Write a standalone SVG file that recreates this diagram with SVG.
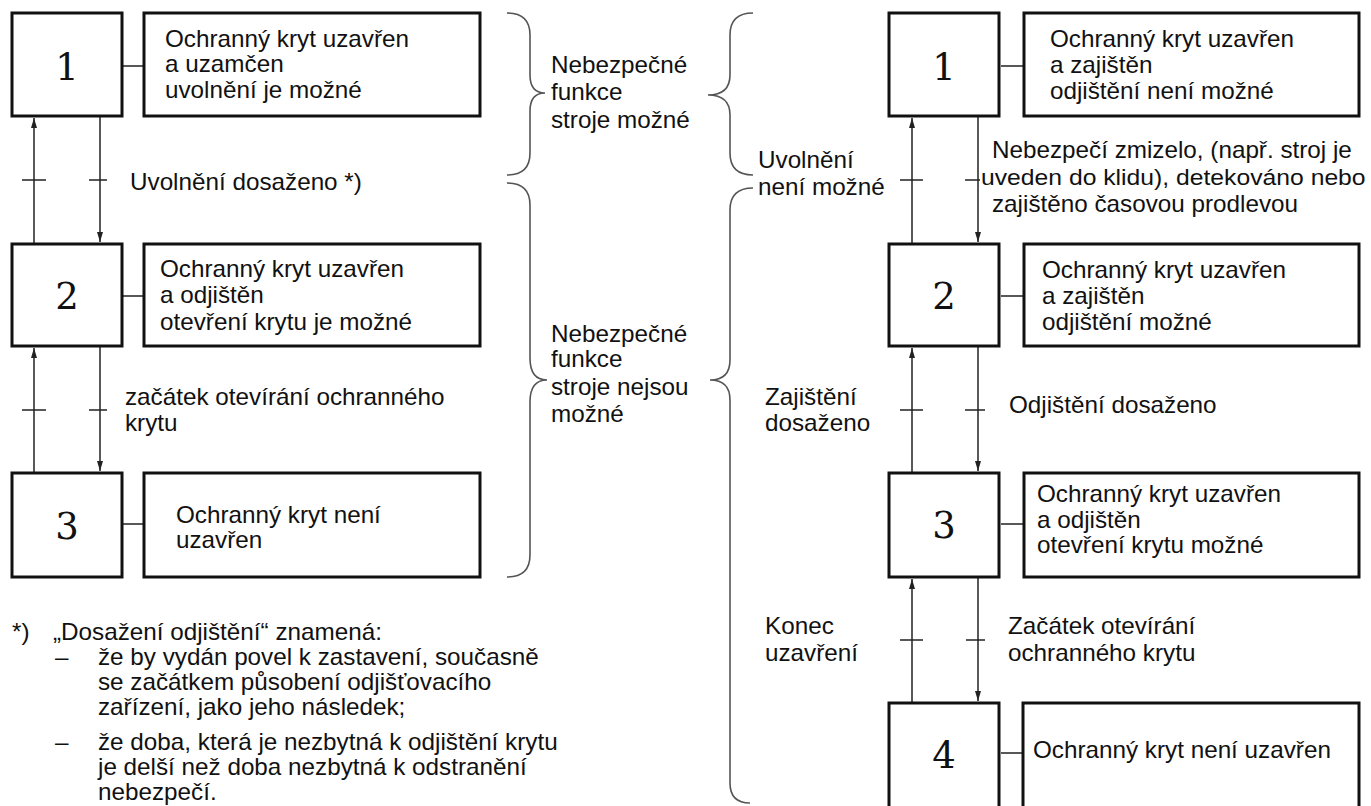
<svg xmlns="http://www.w3.org/2000/svg" width="1371" height="806" viewBox="0 0 1371 806">
<style>
.t{font-family:"Liberation Sans",Arial,sans-serif;font-size:23px;fill:#111}
.n{font-family:"DejaVu Serif",serif;font-size:37px;fill:#111;text-anchor:middle}
.b{fill:#fff;stroke:#111;stroke-width:3}
.c{stroke:#222;stroke-width:1.5;fill:none}
.br{stroke:#555;stroke-width:1.6;fill:none}
</style>
<defs>
<marker id="ah" viewBox="0 0 10 6" refX="10" refY="3" markerWidth="10" markerHeight="6" markerUnits="userSpaceOnUse" orient="auto"><path d="M0,0 L10,3 L0,6 z" fill="#222"/></marker>
</defs>
<rect width="1371" height="806" fill="#fff"/>

<g id="connectors">
<path class="c" d="M123,66 H143 M123,296 H143 M123,524 H143"/>
<path class="c" d="M1001,66 H1023 M1001,296 H1023 M1001,524 H1023 M1001,753 H1022"/>
<path class="c" marker-end="url(#ah)" d="M34,243 V118"/>
<path class="c" marker-end="url(#ah)" d="M100,117 V242"/>
<path class="c" marker-end="url(#ah)" d="M34,472 V348"/>
<path class="c" marker-end="url(#ah)" d="M100,347 V471"/>
<path class="c" d="M22,180 H46 M89,180 H107 M22,410 H46 M89,410 H107"/>
<path class="c" marker-end="url(#ah)" d="M912,243 V118"/>
<path class="c" marker-end="url(#ah)" d="M978,117 V242"/>
<path class="c" marker-end="url(#ah)" d="M912,472 V348"/>
<path class="c" marker-end="url(#ah)" d="M978,347 V471"/>
<path class="c" marker-end="url(#ah)" d="M912,702 V579"/>
<path class="c" marker-end="url(#ah)" d="M978,578 V701"/>
<path class="c" d="M900,180 H923 M965,180 H980 M900,410 H923 M965,410 H985 M900,640 H923 M966,640 H985"/>
</g>

<g id="state-L1"><rect class="b" x="12" y="13" width="110" height="103"/><text class="n" x="67" y="80">1</text></g>
<g id="desc-L1"><rect class="b" x="144" y="13" width="336" height="103"/>
<text class="t" transform="translate(165 47) scale(1.055 1)"><tspan x="0" y="0">Ochranný kryt uzavřen</tspan><tspan x="0" y="25">a uzamčen</tspan><tspan x="0" y="51">uvolnění je možné</tspan></text></g>

<g id="state-L2"><rect class="b" x="12" y="244" width="110" height="102"/><text class="n" x="67" y="309">2</text></g>
<g id="desc-L2"><rect class="b" x="144" y="244" width="336" height="102"/>
<text class="t" transform="translate(160 277) scale(1.055 1)"><tspan x="0" y="0">Ochranný kryt uzavřen</tspan><tspan x="0" y="26">a odjištěn</tspan><tspan x="0" y="53">otevření krytu je možné</tspan></text></g>

<g id="state-L3"><rect class="b" x="12" y="473" width="110" height="104"/><text class="n" x="67" y="539">3</text></g>
<g id="desc-L3"><rect class="b" x="144" y="473" width="336" height="104"/>
<text class="t" transform="translate(176 523) scale(1.055 1)"><tspan x="0" y="0">Ochranný kryt není</tspan><tspan x="0" y="25">uzavřen</tspan></text></g>

<g id="label-L12"><text class="t" transform="translate(130 190) scale(1.055 1)">Uvolnění dosaženo *)</text></g>
<g id="label-L23"><text class="t" transform="translate(125 405) scale(1.055 1)"><tspan x="0" y="0">začátek otevírání ochranného</tspan><tspan x="0" y="26">krytu</tspan></text></g>

<g id="brace-A"><path class="br" d="M507,13 Q530,13 530,35 V75 Q530,93 545,93 Q530,93 530,111 V153 Q530,175 507,175"/>
<text class="t" transform="translate(551 73) scale(1.055 1)"><tspan x="0" y="0">Nebezpečné</tspan><tspan x="0" y="27">funkce</tspan><tspan x="0" y="55">stroje možné</tspan></text></g>
<g id="brace-B"><path class="br" d="M507,183 Q530,183 530,205 V358 Q530,380 547,380 Q530,380 530,402 V555 Q530,577 507,577"/>
<text class="t" transform="translate(551 342) scale(1.055 1)"><tspan x="0" y="0">Nebezpečné</tspan><tspan x="0" y="25">funkce</tspan><tspan x="0" y="53">stroje nejsou</tspan><tspan x="0" y="80">možné</tspan></text></g>
<g id="brace-C"><path class="br" d="M753,13 Q730,13 730,35 V75 Q730,95 708,95 Q730,95 730,115 V153 Q730,175 753,175"/>
<text class="t" transform="translate(758 168) scale(1.055 1)"><tspan x="0" y="0">Uvolnění</tspan><tspan x="0" y="27">není možné</tspan></text></g>
<g id="brace-D"><path class="br" d="M753,188 Q730,188 730,210 V360 Q730,380 710,380 Q730,380 730,400 V783 Q730,803 750,803"/>
<text class="t" transform="translate(765 405) scale(1.055 1)"><tspan x="0" y="0">Zajištění</tspan><tspan x="0" y="26">dosaženo</tspan></text>
<text class="t" transform="translate(765 634) scale(1.055 1)"><tspan x="0" y="0">Konec</tspan><tspan x="0" y="27">uzavření</tspan></text></g>

<g id="state-R1"><rect class="b" x="889" y="13" width="110" height="103"/><text class="n" x="944" y="80">1</text></g>
<g id="desc-R1"><rect class="b" x="1024" y="13" width="335" height="103"/>
<text class="t" transform="translate(1050 47) scale(1.055 1)"><tspan x="0" y="0">Ochranný kryt uzavřen</tspan><tspan x="0" y="26">a zajištěn</tspan><tspan x="0" y="52">odjištění není možné</tspan></text></g>

<g id="state-R2"><rect class="b" x="889" y="244" width="110" height="102"/><text class="n" x="944" y="309">2</text></g>
<g id="desc-R2"><rect class="b" x="1024" y="244" width="335" height="102"/>
<text class="t" transform="translate(1042 278) scale(1.055 1)"><tspan x="0" y="0">Ochranný kryt uzavřen</tspan><tspan x="0" y="26">a zajištěn</tspan><tspan x="0" y="52">odjištění možné</tspan></text></g>

<g id="state-R3"><rect class="b" x="889" y="473" width="110" height="104"/><text class="n" x="944" y="538">3</text></g>
<g id="desc-R3"><rect class="b" x="1024" y="473" width="335" height="104"/>
<text class="t" transform="translate(1037 502) scale(1.055 1)"><tspan x="0" y="0">Ochranný kryt uzavřen</tspan><tspan x="0" y="26">a odjištěn</tspan><tspan x="0" y="51">otevření krytu možné</tspan></text></g>

<g id="state-R4"><rect class="b" x="889" y="703" width="110" height="120"/><text class="n" x="944" y="768">4</text></g>
<g id="desc-R4"><rect class="b" x="1023" y="703" width="336" height="120"/>
<text class="t" transform="translate(1033 758) scale(1.055 1)">Ochranný kryt není uzavřen</text></g>

<g id="label-R12">
<text class="t" transform="translate(992 158) scale(1.055 1)"><tspan x="0" y="0">Nebezpečí zmizelo, (např. stroj je</tspan><tspan x="0" y="54">zajištěno časovou prodlevou</tspan></text>
<text class="t" transform="translate(981 185) scale(1.075 1)">uveden do klidu), detekováno nebo</text>
</g>
<g id="label-R23"><text class="t" transform="translate(1009 413) scale(1.055 1)">Odjištění dosaženo</text></g>
<g id="label-R34"><text class="t" transform="translate(1008 634) scale(1.055 1)"><tspan x="0" y="0">Začátek otevírání</tspan><tspan x="0" y="27">ochranného krytu</tspan></text></g>

<g id="footnote">
<text class="t" transform="translate(12 640) scale(1.055 1)">*)</text>
<text class="t" transform="translate(53 640) scale(1.055 1)">„Dosažení odjištění“ znamená:</text>
<text class="t" transform="translate(55 665) scale(1.055 1)">–</text>
<text class="t" transform="translate(98 665) scale(1.055 1)"><tspan x="0" y="0">že by vydán povel k zastavení, současně</tspan><tspan x="0" y="25">se začátkem působení odjišťovacího</tspan><tspan x="0" y="50">zařízení, jako jeho následek;</tspan></text>
<text class="t" transform="translate(55 750) scale(1.055 1)">–</text>
<text class="t" transform="translate(98 750) scale(1.055 1)"><tspan x="0" y="0">že doba, která je nezbytná k odjištění krytu</tspan><tspan x="0" y="25">je delší než doba nezbytná k odstranění</tspan><tspan x="0" y="50">nebezpečí.</tspan></text>
</g>
</svg>
